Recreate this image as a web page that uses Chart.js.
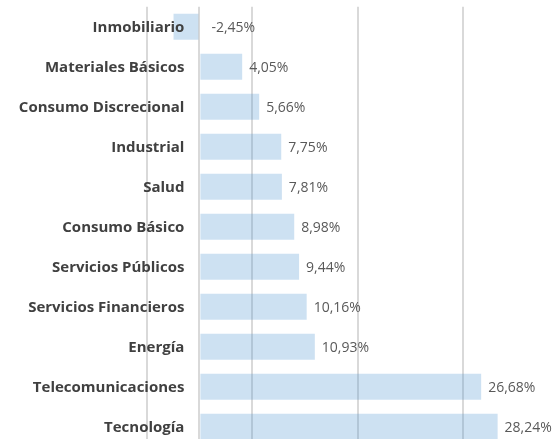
<!DOCTYPE html>
<html>
<head>
<meta charset="utf-8">
<script src="https://cdn.jsdelivr.net/npm/chart.js@4/dist/chart.umd.min.js"></script>
<style>
  html, body { margin: 0; padding: 0; background: #ffffff; }
  #wrap { position: relative; width: 553px; height: 439px; overflow: hidden; background: #fff; }
  #c { position: absolute; left: 0; top: 0; }
</style>
</head>
<body>
<div id="wrap"><canvas id="c" width="600" height="460"></canvas></div>
<script>
const categories = ["Inmobiliario", "Materiales Básicos", "Consumo Discrecional", "Industrial", "Salud", "Consumo Básico", "Servicios Públicos", "Servicios Financieros", "Energía", "Telecomunicaciones", "Tecnología"];
const returns = [-2.45, 4.05, 5.66, 7.75, 7.81, 8.98, 9.44, 10.16, 10.93, 26.68, 28.24];
const gridTicks = [-5, 0, 5, 15, 25, 35];

const textLabels = {
  id: 'textLabels',
  afterDatasetsDraw(chart) {
    const ctx = chart.ctx;
    const meta = chart.getDatasetMeta(0);
    const xs = chart.scales.x;
    const ys = chart.scales.y;
    const zero = xs.getPixelForValue(0);
    ctx.save();
    ctx.textBaseline = 'middle';
    // category labels, right aligned next to the zero axis
    ctx.font = 'bold 15px "Open Sans"';
    ctx.fillStyle = '#404040';
    ctx.textAlign = 'right';
    chart.data.labels.forEach((lab, i) => {
      ctx.fillText(lab, zero - 15, ys.getPixelForValue(i) + 1);
    });
    // value labels
    ctx.font = '14px "Open Sans"';
    ctx.fillStyle = '#595959';
    ctx.textAlign = 'left';
    meta.data.forEach((bar, i) => {
      const v = chart.data.datasets[0].data[i];
      const txt = v.toFixed(2).replace('.', ',') + '%';
      const x = v >= 0 ? bar.x + 7 : zero + 12;
      ctx.fillText(txt, x, bar.y + 1);
    });
    ctx.restore();
  }
};

new Chart(document.getElementById('c'), {
  type: 'bar',
  data: {
    labels: categories,
    datasets: [{
      data: returns,
      backgroundColor: 'rgba(91,155,213,0.3)',
      borderWidth: 0,
      barPercentage: 0.65,
      categoryPercentage: 1
    }]
  },
  options: {
    indexAxis: 'y',
    responsive: false,
    animation: false,
    layout: { padding: { top: 6.7, right: 31, bottom: 13.3, left: 0 } },
    plugins: { legend: { display: false }, tooltip: { enabled: false } },
    scales: {
      x: {
        min: -5, max: 35,
        afterBuildTicks(scale) { scale.ticks = gridTicks.map(v => ({ value: v })); },
        afterFit(scale) { scale.height = 0; },
        ticks: { display: false },
        border: { display: false },
        grid: { color: '#d9d9d9', lineWidth: 2, drawTicks: false }
      },
      y: {
        afterFit(scale) { scale.width = 146.6; },
        border: { display: false },
        grid: { display: false, drawTicks: false },
        ticks: { display: false }
      }
    }
  },
  plugins: [textLabels]
});
</script>
</body>
</html>
